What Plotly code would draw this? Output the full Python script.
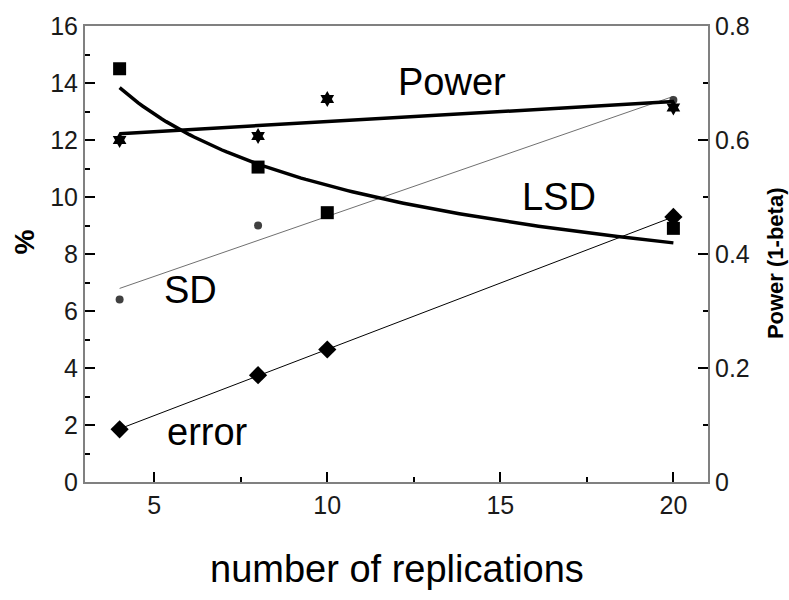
import numpy as np
import plotly.graph_objects as go

# ---- data ----
reps_lsd = [4, 8, 10, 20]
lsd = [14.5, 11.05, 9.45, 8.9]

reps_power = [4, 8, 10, 20]
power = [0.60, 0.607, 0.672, 0.657]

reps_sd = [4, 8, 20]
sd = [6.4, 9.0, 13.4]

reps_err = [4, 8, 10, 20]
error = [1.85, 3.75, 4.65, 9.3]

x_ticks = [5, 10, 15, 20]

FONT = "Liberation Sans, Arial, sans-serif"

# ---- fitted trend lines (regressions of the data above) ----
xf = np.linspace(min(reps_lsd), max(reps_lsd), 120)
b_lsd, a_lsd = np.polyfit(np.log(reps_lsd), np.log(lsd), 1)
lsd_fit = np.exp(a_lsd) * xf ** b_lsd

p_pow = np.polyfit(reps_power, power, 1)
xl = np.array([min(reps_power), max(reps_power)])
pow_fit = np.polyval(p_pow, xl)

p_sd = np.polyfit(reps_sd, sd, 1)
xs = np.array([min(reps_sd), max(reps_sd)])
sd_fit = np.polyval(p_sd, xs)

p_err = np.polyfit(reps_err, error, 1)
xe = np.array([min(reps_err), max(reps_err)])
err_fit = np.polyval(p_err, xe)

fig = go.Figure()

# lines
fig.add_trace(go.Scatter(x=xs, y=sd_fit, mode="lines",
                         line=dict(color="#707070", width=1), hoverinfo="skip"))
fig.add_trace(go.Scatter(x=xe, y=err_fit, mode="lines",
                         line=dict(color="#000000", width=1), hoverinfo="skip"))
fig.add_trace(go.Scatter(x=xf, y=lsd_fit, mode="lines",
                         line=dict(color="#000000", width=3.5), hoverinfo="skip"))
fig.add_trace(go.Scatter(x=xl, y=pow_fit, mode="lines", yaxis="y2",
                         line=dict(color="#000000", width=3.5), hoverinfo="skip"))

# markers
fig.add_trace(go.Scatter(x=reps_sd, y=sd, mode="markers",
                         marker=dict(symbol="circle", size=8, color="#404040")))
fig.add_trace(go.Scatter(x=reps_lsd, y=lsd, mode="markers",
                         marker=dict(symbol="square", size=13, color="#000000")))
fig.add_trace(go.Scatter(x=reps_err, y=error, mode="markers",
                         marker=dict(symbol="diamond", size=14, color="#000000")))
fig.add_trace(go.Scatter(x=reps_power, y=power, mode="markers", yaxis="y2",
                         marker=dict(symbol="hexagram", size=12, color="#000000")))

big = dict(family=FONT, size=38, color="#000000")
labels = [("Power", 13.6, 14.05), ("LSD", 16.7, 10.0), ("SD", 6.05, 6.75), ("error", 6.55, 1.75)]
for txt, x, y in labels:
    fig.add_annotation(x=x, y=y, xref="x", yref="y", text=txt, showarrow=False,
                       font=big, xanchor="center", yanchor="middle")

# axis titles
fig.add_annotation(x=0.5, y=-0.19, xref="paper", yref="paper", yanchor="middle",
                   text="number of replications", showarrow=False,
                   font=dict(family=FONT, size=38, color="#000000"))
fig.add_annotation(x=0, y=0.525, xref="paper", yref="paper", text="<b>%</b>",
                   showarrow=False, textangle=-90, xshift=25 - 85,
                   xanchor="center", yanchor="middle",
                   font=dict(family=FONT, size=28, color="#000000"))
fig.add_annotation(x=0, y=0.48, xref="paper", yref="paper", text="<b>Power (1-beta)</b>",
                   showarrow=False, textangle=-90, xanchor="center", yanchor="middle",
                   xshift=775 - 85, font=dict(family=FONT, size=22, color="#000000"))

axis_common = dict(showgrid=False, zeroline=False, showline=True, linecolor="#808080",
                   linewidth=2, ticks="inside", ticklen=10, tickwidth=1.5,
                   tickcolor="#000000",
                   tickfont=dict(family=FONT, size=25, color="#1a1a1a"))

fig.update_layout(
    width=789, height=600,
    margin=dict(l=85, r=81, t=20, b=118),
    paper_bgcolor="white", plot_bgcolor="white",
    showlegend=False,
    xaxis=dict(range=[3, 21], tickvals=x_ticks, mirror=True,
               minor=dict(dtick=2.5, tick0=0, ticks="inside", ticklen=5,
                          tickcolor="#000000", tickwidth=1.5),
               **axis_common),
    yaxis=dict(range=[0, 16], dtick=2, tick0=0,
               minor=dict(dtick=1, ticks="inside", ticklen=5,
                          tickcolor="#000000", tickwidth=1.5),
               **axis_common),
    yaxis2=dict(range=[0, 0.8], dtick=0.2, tick0=0, overlaying="y", side="right",
                minor=dict(dtick=0.1, ticks="inside", ticklen=5,
                           tickcolor="#000000", tickwidth=1.5),
                **axis_common),
)

fig.write_html("out.html")
